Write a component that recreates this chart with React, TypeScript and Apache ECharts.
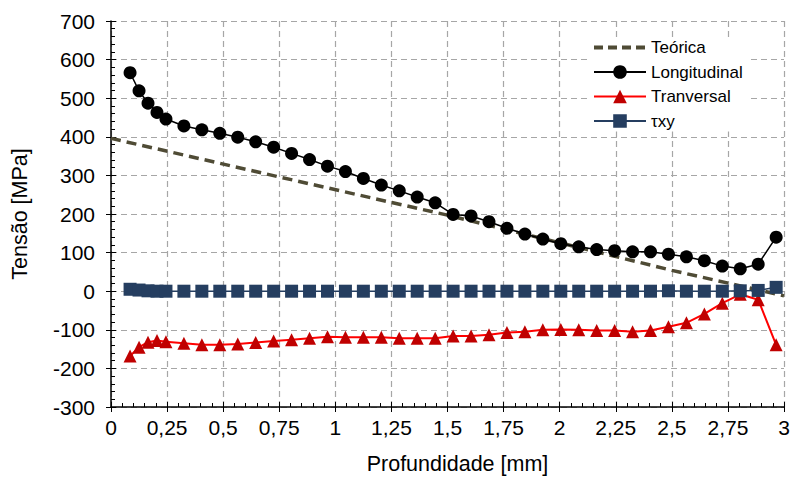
import React, { useEffect, useRef } from "react";
import * as echarts from "echarts";

const depth = [0.085, 0.125, 0.165, 0.205, 0.245, 0.325, 0.405, 0.485, 0.565, 0.645, 0.725, 0.805, 0.885, 0.965, 1.045, 1.125, 1.205, 1.285, 1.365, 1.445, 1.525, 1.605, 1.685, 1.765, 1.845, 1.925, 2.005, 2.085, 2.165, 2.245, 2.325, 2.405, 2.485, 2.565, 2.645, 2.725, 2.805, 2.885, 2.965];
const longitudinal = [566, 519, 487, 463, 446, 428, 418, 409, 399, 387, 373, 357, 341, 324, 310, 292, 275, 260, 244, 229, 199, 195, 180, 163, 148, 135, 123, 115, 108, 105, 102, 102, 96, 89, 79, 65, 58, 70, 140];
const transversal = [-168, -145, -132, -128, -131, -135, -139, -139, -137, -133, -129, -126, -122, -118, -119, -119, -119, -122, -122, -122, -116, -116, -113, -107, -105, -100, -99, -100, -102, -102, -105, -102, -92, -82, -59, -31, -8, -22, -139];
const txy = [5, 3, 1, 0, 0, 0, 0, 0, 0, 0, 0, 0, 0, 0, 0, 0, 0, 0, 0, 0, 0, 0, 0, 0, 0, 0, 0, 0, 0, 0, 0, 0, 1, 0, 0, 0, 1, 2, 10];
const teoricaX = [0, 0.75, 1.5, 2.5, 3];
const teoricaY = [396, 296, 197, 54, -12];

const FONT = "'Liberation Sans', Arial, sans-serif";

export default function App() {
  const ref = useRef<HTMLDivElement>(null);
  useEffect(() => {
    if (!ref.current) return;
    const chart = echarts.init(ref.current, null, { renderer: "svg" });
    const pairs = (xs: number[], ys: number[]) => xs.map((x, i) => [x, ys[i]]);
    const fmtX = (v: number) => String(v).replace(".", ",");
    const baseX = { type: "value", min: 0, max: 3, interval: 0.25, position: "bottom" };
    const baseY = { type: "value", min: -300, max: 700, interval: 100, position: "left" };
    chart.setOption({
      animation: false,
      textStyle: { fontFamily: FONT },
      grid: { left: 111, right: 9, top: 21, bottom: 77 },
      legend: {
        left: 590,
        top: 37,
        orient: "vertical",
        itemWidth: 52,
        itemHeight: 17,
        itemGap: 7.5,
        backgroundColor: "#ffffff",
        padding: [2, 8, 2, 2],
        textStyle: { fontSize: 17, color: "#000", fontFamily: FONT },
        data: [
          { name: "Teórica", itemStyle: { opacity: 0 }, lineStyle: { width: 4, type: [9, 5] } },
          "Longitudinal",
          "Tranversal",
          "τxy",
        ],
      },
      xAxis: [
        {
          ...baseX,
          name: "Profundidade [mm]",
          nameLocation: "middle",
          nameGap: 46,
          nameTextStyle: { fontSize: 21.5, color: "#000", padding: [0, 0, 0, 20], fontFamily: FONT },
          axisLine: { onZero: false, lineStyle: { color: "#000", width: 1.5 } },
          axisTick: { show: true, inside: false, length: 5, lineStyle: { color: "#000" } },
          axisLabel: { fontSize: 21, color: "#000", margin: 10, formatter: fmtX, fontFamily: FONT },
          splitLine: { show: true, lineStyle: { color: "#a6a6a6", type: [6, 4], width: 1.2 } },
        },
        {
          ...baseX,
          axisLine: { show: false, onZero: false },
          axisLabel: { show: false },
          splitLine: { show: false },
          axisTick: { show: true, inside: true, length: 5, lineStyle: { color: "#000" } },
          minorTick: { show: true, splitNumber: 5, length: 4, lineStyle: { color: "#000" } },
        },
      ],
      yAxis: [
        {
          ...baseY,
          name: "Tensão [MPa]",
          nameLocation: "middle",
          nameGap: 80,
          nameTextStyle: { fontSize: 21.5, color: "#000", fontFamily: FONT },
          axisLine: { onZero: false, lineStyle: { color: "#000", width: 1.5 } },
          axisTick: { show: true, inside: false, length: 5, lineStyle: { color: "#000" } },
          axisLabel: { fontSize: 21, color: "#000", margin: 16, fontFamily: FONT },
          splitLine: { show: true, lineStyle: { color: "#a6a6a6", type: [6, 4], width: 1.2 } },
        },
        {
          ...baseY,
          axisLine: { show: false, onZero: false },
          axisLabel: { show: false },
          splitLine: { show: false },
          axisTick: { show: true, inside: true, length: 5, lineStyle: { color: "#000" } },
          minorTick: { show: true, splitNumber: 5, length: 4, lineStyle: { color: "#000" } },
        },
      ],
      series: [
        {
          name: "Teórica",
          type: "line",
          xAxisIndex: 0,
          yAxisIndex: 0,
          data: pairs(teoricaX, teoricaY),
          showSymbol: false,
          symbol: "none",
          lineStyle: { color: "#4f4b35", width: 3.5, type: [10, 6] },
          itemStyle: { color: "#4f4b35" },
        },
        {
          name: "Longitudinal",
          type: "line",
          xAxisIndex: 0,
          yAxisIndex: 0,
          data: pairs(depth, longitudinal),
          symbol: "circle",
          symbolSize: 13,
          lineStyle: { color: "#000", width: 1.5 },
          itemStyle: { color: "#000" },
        },
        {
          name: "Tranversal",
          type: "line",
          xAxisIndex: 0,
          yAxisIndex: 0,
          data: pairs(depth, transversal),
          symbol: "triangle",
          symbolSize: 13,
          lineStyle: { color: "#ff0000", width: 2 },
          itemStyle: { color: "#c00000" },
        },
        {
          name: "τxy",
          type: "line",
          xAxisIndex: 0,
          yAxisIndex: 0,
          data: pairs(depth, txy),
          symbol: "rect",
          symbolSize: 13,
          lineStyle: { color: "#253e60", width: 1.5 },
          itemStyle: { color: "#253e60" },
        },
      ],
    });
    return () => chart.dispose();
  }, []);
  return <div ref={ref} style={{ width: 793, height: 484, position: "absolute", left: 0, top: 0 }} />;
}
